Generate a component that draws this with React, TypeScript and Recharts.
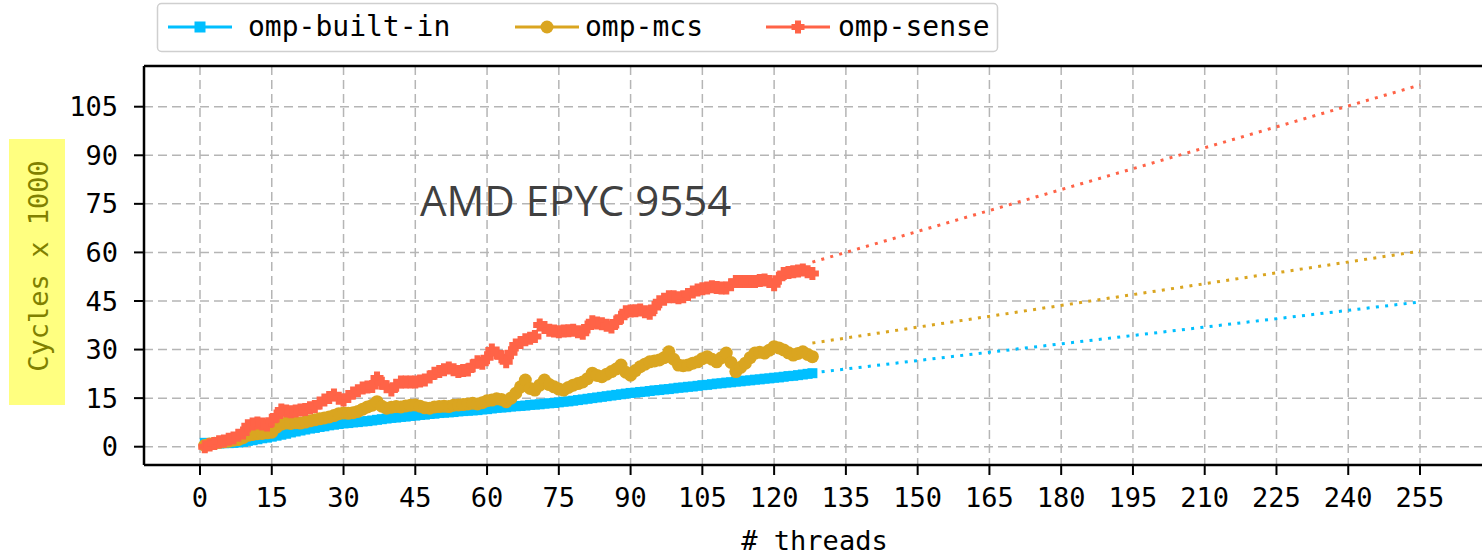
import { ComposedChart, Line, XAxis, YAxis, CartesianGrid, ReferenceLine } from 'recharts';

const BLUE = '#00BFFF';
const GOLD = '#DAA520';
const RED = '#FF6347';
const MONO = '"DejaVu Sans Mono", monospace';

// # threads measured: 1..128
const threads = Array.from({ length: 128 }, (_, i) => i + 1);

// cycles x 1000
const builtIn = [
  1.2, 1.0, 0.9, 1.0, 1.1, 1.1, 1.2, 1.3, 1.5, 1.8,
  2.0, 2.3, 2.6, 2.8, 3.1, 3.4, 3.7, 4.0, 4.4, 4.7,
  5.0, 5.3, 5.6, 5.8, 6.1, 6.3, 6.6, 6.8, 7.0, 7.2,
  7.3, 7.5, 7.6, 7.8, 7.9, 8.1, 8.3, 8.5, 8.7, 8.9,
  9.0, 9.2, 9.3, 9.5, 9.6, 9.8, 9.9, 10.1, 10.2, 10.4,
  10.5, 10.6, 10.7, 10.9, 11.0, 11.1, 11.2, 11.3, 11.5, 11.6,
  11.8, 12.0, 12.1, 12.2, 12.4, 12.5, 12.6, 12.7, 12.9, 13.0,
  13.1, 13.3, 13.4, 13.5, 13.7, 13.9, 14.0, 14.2, 14.4, 14.6,
  14.8, 15.0, 15.2, 15.4, 15.6, 15.8, 16.0, 16.2, 16.4, 16.6,
  16.7, 16.9, 17.0, 17.2, 17.4, 17.5, 17.7, 17.8, 18.0, 18.2,
  18.3, 18.5, 18.6, 18.8, 19.0, 19.1, 19.3, 19.5, 19.6, 19.8,
  19.9, 20.1, 20.2, 20.4, 20.5, 20.7, 20.8, 21.0, 21.1, 21.3,
  21.4, 21.6, 21.8, 21.9, 22.1, 22.3, 22.5, 22.7,
];

const mcs = [
  0.4, 0.8, 1.1, 1.3, 1.5, 1.7, 2.0, 2.2, 2.8, 3.5,
  3.8, 4.0, 4.1, 4.3, 4.5, 6.0, 7.0, 7.3, 7.2, 7.4,
  7.3, 7.6, 8.0, 8.3, 8.6, 8.9, 9.2, 9.6, 10.2, 10.4,
  10.3, 10.5, 10.9, 11.6, 12.3, 12.8, 13.9, 12.5, 11.9, 12.2,
  12.4, 12.3, 12.6, 12.8, 12.9, 12.5, 12.0, 11.9, 12.3, 12.4,
  12.5, 12.4, 12.8, 12.9, 13.0, 13.2, 13.4, 13.2, 13.6, 14.2,
  14.4, 14.8, 14.6, 13.9, 15.0, 16.5, 18.5, 20.6, 18.0, 17.5,
  19.0, 20.6, 19.2, 18.5, 17.8, 17.5, 18.3, 19.0, 19.5, 20.0,
  21.0, 22.7, 22.0, 21.6, 22.4, 23.2, 24.0, 25.2, 23.0, 22.1,
  23.5, 24.7, 25.5, 26.2, 26.5, 26.8, 27.5, 29.3, 27.0, 25.2,
  25.0, 25.2, 25.8, 26.2, 27.2, 27.8, 27.0, 26.2, 27.5, 28.9,
  26.0, 23.2, 24.5, 25.8, 27.5, 28.9, 29.2, 28.9, 29.8, 30.9,
  30.5, 29.9, 29.0, 28.3, 28.8, 29.3, 28.5, 27.8,
];

const sense = [
  0.0, 0.5, 1.0, 1.5, 1.8, 2.3, 2.7, 3.5, 4.2, 6.5,
  7.0, 7.3, 7.0, 6.7, 8.2, 9.5, 11.3, 11.0, 10.8, 11.0,
  11.3, 11.5, 12.0, 12.4, 13.5, 14.4, 15.2, 16.0, 15.0, 14.4,
  15.5, 16.6, 17.3, 18.1, 18.4, 18.6, 21.2, 19.6, 18.5, 17.5,
  19.0, 20.0, 20.0, 20.0, 20.0, 20.3, 20.6, 21.5, 22.7, 23.2,
  23.8, 24.3, 23.8, 23.2, 23.5, 23.7, 25.0, 26.2, 25.8, 27.5,
  29.9, 28.9, 27.8, 26.2, 29.0, 31.4, 32.2, 33.0, 33.5, 34.0,
  37.6, 36.8, 36.0, 35.7, 35.5, 35.7, 35.8, 36.0, 35.5, 35.0,
  37.0, 38.6, 38.2, 38.0, 37.5, 37.0, 38.5, 40.0, 41.7, 41.9,
  42.0, 42.2, 41.7, 41.2, 43.0, 44.8, 45.5, 46.3, 46.3, 46.0,
  46.3, 47.0, 47.8, 48.4, 48.8, 49.0, 49.4, 49.2, 49.0, 49.0,
  50.0, 51.0, 51.0, 51.0, 51.0, 51.0, 51.3, 51.5, 51.0, 50.0,
  52.0, 53.5, 53.8, 54.0, 54.3, 54.6, 54.0, 53.5,
];

// dotted projection beyond the measured range
const fitThreads = [128, 255];
const builtInFit = [22.8, 44.7];
const mcsFit = [32.0, 60.4];
const senseFit = [57.0, 111.7];

const xTicks = [0, 15, 30, 45, 60, 75, 90, 105, 120, 135, 150, 165, 180, 195, 210, 225, 240, 255];
const yTicks = [0, 15, 30, 45, 60, 75, 90, 105];

const X_MIN = -11.705;
const X_MAX = 277.99;
const Y_MIN = -5.65;
const Y_MAX = 117.57;

const data = threads.map((t, i) => ({ t, builtIn: builtIn[i], mcs: mcs[i], sense: sense[i] }));
const fitData = fitThreads.map((t, i) => ({ t, builtIn: builtInFit[i], mcs: mcsFit[i], sense: senseFit[i] }));

const plusPath = (cx: number, cy: number, s: number, w: number) => {
  const a = s / 2;
  const b = w / 2;
  return `M${cx - b},${cy - a}H${cx + b}V${cy - b}H${cx + a}V${cy + b}H${cx + b}V${cy + a}H${cx - b}V${cy + b}H${cx - a}V${cy - b}H${cx - b}Z`;
};

const SquareDot = (props: any) => {
  const { cx, cy, index } = props;
  if (cx == null || cy == null) return <g key={index} />;
  return <rect key={index} x={cx - 5} y={cy - 5} width={10} height={10} fill={BLUE} />;
};

const CircleDot = (props: any) => {
  const { cx, cy, index } = props;
  if (cx == null || cy == null) return <g key={index} />;
  return <circle key={index} cx={cx} cy={cy} r={6.5} fill={GOLD} />;
};

const PlusDot = (props: any) => {
  const { cx, cy, index } = props;
  if (cx == null || cy == null) return <g key={index} />;
  return <path key={index} d={plusPath(cx, cy, 13, 6)} fill={RED} />;
};

const tickStyle = { fill: '#000', fontSize: 27, fontFamily: MONO };

function Overlay() {
  const legend = [
    { name: 'omp-built-in', color: BLUE, x: 168, tx: 248, marker: 'square' },
    { name: 'omp-mcs', color: GOLD, x: 515, tx: 585, marker: 'circle' },
    { name: 'omp-sense', color: RED, x: 766, tx: 838, marker: 'plus' },
  ];
  return (
    <svg width={1482} height={558} style={{ position: 'absolute', left: 0, top: 0, pointerEvents: 'none' }}>
      <rect x={157.5} y={3.5} width={840} height={48} rx={4} fill="#fff" stroke="#cfcfcf" strokeWidth={1.5} />
      {legend.map((l) => {
        const mx = l.x + 32;
        return (
          <g key={l.name}>
            <line x1={l.x} x2={l.x + 64} y1={27} y2={27} stroke={l.color} strokeWidth={3} />
            {l.marker === 'square' && <rect x={mx - 5.5} y={21.5} width={11} height={11} fill={l.color} />}
            {l.marker === 'circle' && <circle cx={mx} cy={27} r={6.5} fill={l.color} />}
            {l.marker === 'plus' && <path d={plusPath(mx, 27, 13, 6)} fill={l.color} />}
            <text x={l.tx} y={36} fontSize={28} fontFamily={MONO} fill="#000">{l.name}</text>
          </g>
        );
      })}
      <text x={420} y={216} fontSize={42} fontFamily='"Open Sans", sans-serif' fill="#404040">AMD EPYC 9554</text>
      <rect x={9} y={139} width={56} height={266} fill="#ffff80" />
      <text
        x={38}
        y={266}
        transform="rotate(-90 38 266)"
        textAnchor="middle"
        dominantBaseline="central"
        fontSize={27}
        fontFamily={MONO}
        fill="#808000"
      >
        Cycles x 1000
      </text>
      <text x={814.5} y={550} textAnchor="middle" fontSize={27} fontFamily={MONO} fill="#000"># threads</text>
    </svg>
  );
}

export default function App() {
  return (
    <div style={{ position: 'absolute', left: 0, top: 0, width: 1482, height: 558, overflow: 'hidden', background: '#fff' }}>
      <ComposedChart width={1530} height={558} margin={{ top: 66, right: 0, bottom: 0, left: 0 }}>
        <CartesianGrid stroke="#b5b5b5" strokeWidth={1.5} strokeDasharray="9 5" />
        <XAxis
          type="number"
          dataKey="t"
          domain={[X_MIN, X_MAX]}
          ticks={xTicks}
          allowDataOverflow
          height={93}
          tick={tickStyle}
          tickSize={10}
          tickMargin={13}
          tickLine={{ stroke: '#000', strokeWidth: 2 }}
          axisLine={{ stroke: '#000', strokeWidth: 2.5 }}
        />
        <YAxis
          type="number"
          domain={[Y_MIN, Y_MAX]}
          ticks={yTicks}
          allowDataOverflow
          width={144}
          tick={tickStyle}
          tickSize={10}
          tickMargin={16}
          tickLine={{ stroke: '#000', strokeWidth: 2 }}
          axisLine={{ stroke: '#000', strokeWidth: 2.5 }}
        />
        <ReferenceLine y={Y_MAX} stroke="#000" strokeWidth={2.5} ifOverflow="visible" />
        <Line data={data} dataKey="builtIn" stroke={BLUE} strokeWidth={2} dot={SquareDot} activeDot={false} isAnimationActive={false} />
        <Line data={data} dataKey="mcs" stroke={GOLD} strokeWidth={2} dot={CircleDot} activeDot={false} isAnimationActive={false} />
        <Line data={data} dataKey="sense" stroke={RED} strokeWidth={2} dot={PlusDot} activeDot={false} isAnimationActive={false} />
        <Line data={fitData} dataKey="builtIn" stroke={BLUE} strokeWidth={3} strokeDasharray="3 6.3" dot={false} activeDot={false} isAnimationActive={false} />
        <Line data={fitData} dataKey="mcs" stroke={GOLD} strokeWidth={3} strokeDasharray="3 6.3" dot={false} activeDot={false} isAnimationActive={false} />
        <Line data={fitData} dataKey="sense" stroke={RED} strokeWidth={3} strokeDasharray="3 6.3" dot={false} activeDot={false} isAnimationActive={false} />
      </ComposedChart>
      <Overlay />
    </div>
  );
}
